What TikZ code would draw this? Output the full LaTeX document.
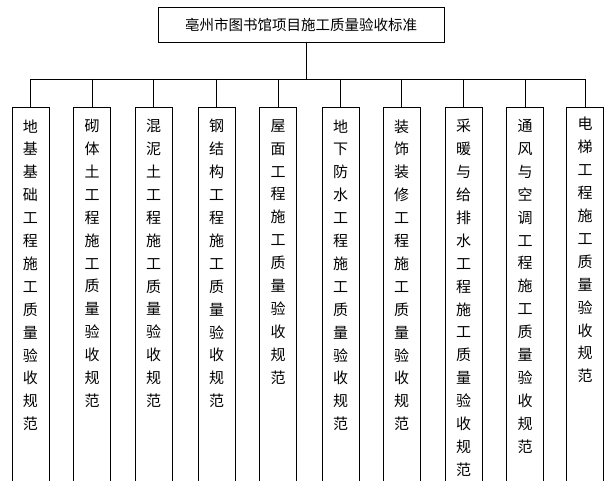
\documentclass[tikz,border=0pt]{standalone}
\usepackage{fontspec}
\newfontfamily\cjk{Noto Sans CJK SC}
\usetikzlibrary{positioning}

\begin{document}
\begin{tikzpicture}[x=1pt,y=-1pt,line width=0.8pt]

                \tikzset{title/.style = {shape=rectangle,draw,minimum width=286pt,minimum height=35pt,
                                         font=\cjk\fontsize{14.5pt}{17pt}\selectfont}}
                \tikzset{part/.style = {shape=rectangle,draw,anchor=north,minimum width=37pt,minimum height=420pt}}
                \tikzset{partlabel/.style = {anchor=north,inner sep=0pt,align=center,
                                             font=\cjk\fontsize{15pt}{22.9pt}\selectfont}}
                \tikzset{edge/.style = {draw}}

                \clip (0,0) rectangle (613,481);

                \node[title] (top) at (301,24.5) {亳州市图书馆项目施工质量验收标准};
                \coordinate (bus) at (306,79);

                \node[part] (b1) at (30.5,107) {};
                \node[part] (b2) at (92,107) {};
                \node[part] (b3) at (153.5,107) {};
                \node[part] (b4) at (216.5,107) {};
                \node[part] (b5) at (278,107) {};
                \node[part] (b6) at (340.5,107) {};
                \node[part] (b7) at (401.5,107) {};
                \node[part] (b8) at (463.5,107) {};
                \node[part] (b9) at (525,107) {};
                \node[part] (b10) at (585,107) {};

                \node[partlabel,below=12pt of b1.north] (t1) {地\\基\\基\\础\\工\\程\\施\\工\\质\\量\\验\\收\\规\\范};
                \node[partlabel,below=12pt of b2.north] (t2) {砌\\体\\土\\工\\程\\施\\工\\质\\量\\验\\收\\规\\范};
                \node[partlabel,below=12pt of b3.north] (t3) {混\\泥\\土\\工\\程\\施\\工\\质\\量\\验\\收\\规\\范};
                \node[partlabel,below=12pt of b4.north] (t4) {钢\\结\\构\\工\\程\\施\\工\\质\\量\\验\\收\\规\\范};
                \node[partlabel,below=12pt of b5.north] (t5) {屋\\面\\工\\程\\施\\工\\质\\量\\验\\收\\规\\范};
                \node[partlabel,below=12pt of b6.north] (t6) {地\\下\\防\\水\\工\\程\\施\\工\\质\\量\\验\\收\\规\\范};
                \node[partlabel,below=12pt of b7.north] (t7) {装\\饰\\装\\修\\工\\程\\施\\工\\质\\量\\验\\收\\规\\范};
                \node[partlabel,below=12pt of b8.north] (t8) {采\\暖\\与\\给\\排\\水\\工\\程\\施\\工\\质\\量\\验\\收\\规\\范};
                \node[partlabel,below=12pt of b9.north] (t9) {通\\风\\与\\空\\调\\工\\程\\施\\工\\质\\量\\验\\收\\规\\范};
                \node[partlabel,below=10pt of b10.north] (t10) {电\\梯\\工\\程\\施\\工\\质\\量\\验\\收\\规\\范};

                \draw[edge] (top.south -| bus) to (bus);
                \draw[edge] (b1.north |- bus) to (b10.north |- bus);

                \draw[edge] (b1.north |- bus) to (b1.north);
                \draw[edge] (b2.north |- bus) to (b2.north);
                \draw[edge] (b3.north |- bus) to (b3.north);
                \draw[edge] (b4.north |- bus) to (b4.north);
                \draw[edge] (b5.north |- bus) to (b5.north);
                \draw[edge] (b6.north |- bus) to (b6.north);
                \draw[edge] (b7.north |- bus) to (b7.north);
                \draw[edge] (b8.north |- bus) to (b8.north);
                \draw[edge] (b9.north |- bus) to (b9.north);
                \draw[edge] (b10.north |- bus) to (b10.north);
            \end{tikzpicture}
\end{document}
